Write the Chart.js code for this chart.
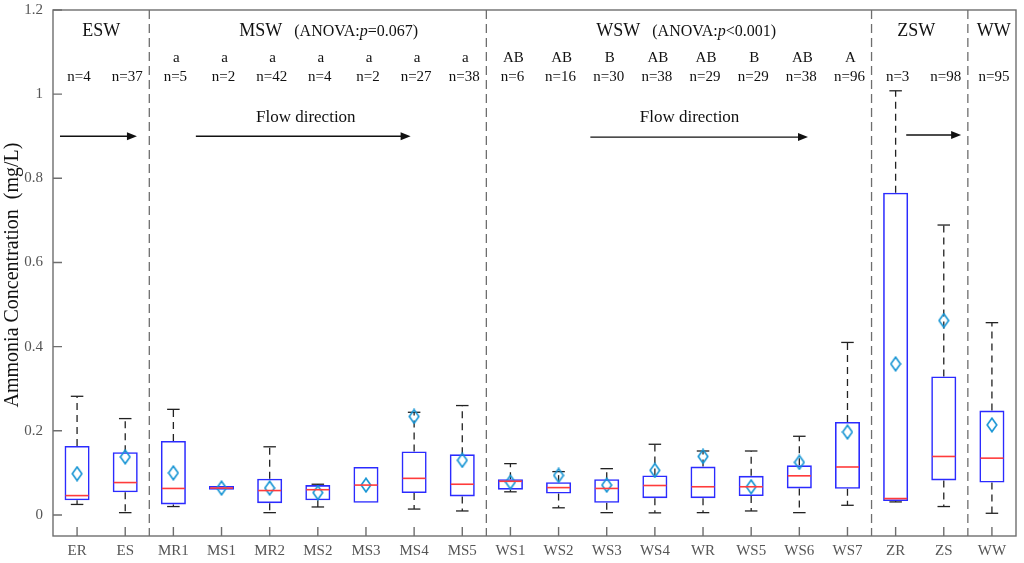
<!DOCTYPE html>
<html><head><meta charset="utf-8">
<script src="https://cdn.jsdelivr.net/npm/chart.js@4.4.1/dist/chart.umd.min.js"></script>
<style>html,body{margin:0;padding:0;background:#fff}#wrap{width:1024px;height:563px}</style>
</head><body><div id="wrap"><canvas id="c" width="1024" height="563"></canvas></div>
<script>
const categories = ['ER','ES','MR1','MS1','MR2','MS2','MS3','MS4','MS5','WS1','WS2','WS3','WS4','WR','WS5','WS6','WS7','ZR','ZS','WW'];
const whiskerLow = [0.025,0.0055,0.020,0.060,0.0055,0.019,0.029,0.014,0.0095,0.055,0.017,0.0055,0.005,0.0055,0.0095,0.0055,0.023,0.031,0.020,0.004];
const q1 =         [0.035,0.054,0.025,0.060,0.028,0.035,0.029,0.052,0.044,0.060,0.051,0.029,0.040,0.040,0.045,0.063,0.062,0.033,0.082,0.077];
const medians =    [0.046,0.077,0.063,0.064,0.058,0.060,0.071,0.087,0.073,0.080,0.065,0.063,0.070,0.067,0.067,0.093,0.114,0.039,0.139,0.135];
const q3 =         [0.164,0.149,0.176,0.069,0.086,0.071,0.114,0.151,0.144,0.085,0.078,0.085,0.094,0.115,0.093,0.118,0.221,0.766,0.329,0.248];
const whiskerHigh =[0.282,0.229,0.251,0.069,0.162,0.073,0.114,0.244,0.260,0.122,0.103,0.110,0.168,0.152,0.152,0.187,0.410,1.008,0.689,0.457];
const means =      [0.098,0.138,0.100,0.064,0.064,0.053,0.071,0.234,0.130,0.078,0.094,0.071,0.106,0.139,0.067,0.125,0.197,0.359,0.462,0.214];
const sampleSizes = ['n=4','n=37','n=5','n=2','n=42','n=4','n=2','n=27','n=38','n=6','n=16','n=30','n=38','n=29','n=29','n=38','n=96','n=3','n=98','n=95'];
const groupLetters = ['','','a','a','a','a','a','a','a','AB','AB','B','AB','AB','B','AB','A','','',''];
const yTicks = [0,0.2,0.4,0.6,0.8,1,1.2];
const separatorsAfter = [1,8,16,18];
const yLabel = 'Ammonia Concentration  (mg/L)';

const serif = '"Liberation Serif","DejaVu Serif",serif';

// diamond point image
const dia = document.createElement('canvas');
dia.width = 12; dia.height = 16;
(function(){const g=dia.getContext('2d');g.strokeStyle='#1795d4';g.lineWidth=1.6;g.beginPath();g.moveTo(6,1.2);g.lineTo(10.8,8);g.lineTo(6,14.8);g.lineTo(1.2,8);g.closePath();g.stroke();})();

const boxPlugin = {
  id:'boxExtras',
  beforeDatasetsDraw(chart){
    const {ctx, chartArea:a, scales:{x,y}} = chart;
    ctx.save();
    ctx.strokeStyle='#6e6e6e'; ctx.lineWidth=1.3; ctx.setLineDash([9,5]);
    separatorsAfter.forEach(i=>{
      const px = (x.getPixelForValue(i)+x.getPixelForValue(i+1))/2;
      ctx.beginPath(); ctx.moveTo(px,a.top); ctx.lineTo(px,a.bottom); ctx.stroke();
    });
    const half = x.getPixelForValue(1)-x.getPixelForValue(0);
    categories.forEach((c,i)=>{
      const px = x.getPixelForValue(i);
      ctx.strokeStyle='#222'; ctx.lineWidth=1.3;
      ctx.setLineDash([7,5]);
      if (whiskerHigh[i]>q3[i]){
        ctx.beginPath(); ctx.moveTo(px,y.getPixelForValue(q3[i])); ctx.lineTo(px,y.getPixelForValue(whiskerHigh[i])); ctx.stroke();
      }
      if (whiskerLow[i]<q1[i]){
        ctx.beginPath(); ctx.moveTo(px,y.getPixelForValue(q1[i])); ctx.lineTo(px,y.getPixelForValue(whiskerLow[i])); ctx.stroke();
      }
      ctx.setLineDash([]);
      const cw = half*0.13;
      [whiskerHigh[i],whiskerLow[i]].forEach((v,k)=>{
        if ((k===0 && v>q3[i]) || (k===1 && v<q1[i])){
          const py=y.getPixelForValue(v);
          ctx.beginPath(); ctx.moveTo(px-cw,py); ctx.lineTo(px+cw,py); ctx.stroke();
        }
      });
    });
    ctx.restore();
  },
  afterDatasetsDraw(chart){
    const {ctx, scales:{y}} = chart;
    const meta = chart.getDatasetMeta(0);
    ctx.save();
    ctx.strokeStyle='#ff3b3b'; ctx.lineWidth=1.6;
    meta.data.forEach((bar,i)=>{
      const w = bar.width/2; const py=y.getPixelForValue(medians[i]);
      ctx.beginPath(); ctx.moveTo(bar.x-w+1,py); ctx.lineTo(bar.x+w-1,py); ctx.stroke();
    });
    ctx.restore();
  },
  afterDraw(chart){
    const {ctx, chartArea:a, scales:{x,y}} = chart;
    ctx.save();
    ctx.strokeStyle='#6e6e6e'; ctx.lineWidth=1.4;
    ctx.strokeRect(a.left,a.top,a.right-a.left,a.bottom-a.top);
    ctx.beginPath();
    yTicks.forEach(v=>{const py=y.getPixelForValue(v); ctx.moveTo(a.left,py); ctx.lineTo(a.left+9,py);});
    categories.forEach((c,i)=>{const px=x.getPixelForValue(i); ctx.moveTo(px,a.bottom); ctx.lineTo(px,a.bottom-9);});
    ctx.stroke();
    ctx.save();
    ctx.translate(13, (a.top+a.bottom)/2 + 2);
    ctx.rotate(-Math.PI/2);
    ctx.fillStyle='#111'; ctx.font='20px '+serif; ctx.textAlign='center'; ctx.textBaseline='middle';
    ctx.fillText(yLabel,0,0);
    ctx.restore();
    ctx.fillStyle='#111'; ctx.textAlign='center'; ctx.textBaseline='middle';
    const X = v=>x.getPixelForValue(v), Y = v=>y.getPixelForValue(v);
    ctx.font='15px '+serif;
    categories.forEach((c,i)=>{
      ctx.fillText(sampleSizes[i], X(i)+2, Y(1.040));
      if (groupLetters[i]) ctx.fillText(groupLetters[i], X(i)+3, Y(1.086));
    });
    ctx.font='18px '+serif;
    ctx.fillText('ESW', X(0.5), Y(1.150));
    ctx.fillText('ZSW', X(17.43), Y(1.150));
    ctx.fillText('WW', X(19.04), Y(1.150));
    function titled(main, pre, italic, post, xc){
      ctx.textAlign='left';
      ctx.font='18px '+serif; const mw = ctx.measureText(main).width;
      ctx.font='16px '+serif; const w1=ctx.measureText(pre).width;
      ctx.font='italic 16px '+serif; const w2=ctx.measureText(italic).width;
      let sx = xc;
      ctx.font='18px '+serif; ctx.fillText(main, sx - mw/2, Y(1.150));
      sx = sx + mw/2 + 12;
      ctx.font='16px '+serif; ctx.fillText(pre, sx, Y(1.148)); sx+=w1;
      ctx.font='italic 16px '+serif; ctx.fillText(italic, sx, Y(1.148)); sx+=w2;
      ctx.font='16px '+serif; ctx.fillText(post, sx, Y(1.148));
      ctx.textAlign='center';
    }
    titled('MSW','(ANOVA:','p','=0.067)', X(3.815));
    titled('WSW','(ANOVA:','p','<0.001)', X(11.24));
    ctx.font='17px '+serif;
    ctx.fillText('Flow direction', X(4.75), Y(0.945));
    ctx.fillText('Flow direction', X(12.72), Y(0.945));
    function arrow(x0,x1,v){
      const py=Y(v), p0=X(x0), p1=X(x1);
      ctx.strokeStyle='#111'; ctx.lineWidth=1.3;
      ctx.beginPath(); ctx.moveTo(p0,py); ctx.lineTo(p1-8,py); ctx.stroke();
      ctx.fillStyle='#111'; ctx.beginPath(); ctx.moveTo(p1,py); ctx.lineTo(p1-10,py-4); ctx.lineTo(p1-10,py+4); ctx.closePath(); ctx.fill();
    }
    arrow(-0.355,1.243,0.900);
    arrow(2.467,6.927,0.900);
    arrow(10.66,15.18,0.898);
    arrow(17.22,18.36,0.903);
    ctx.restore();
  }
};

new Chart(document.getElementById('c'), {
  type:'bar',
  data:{
    labels:categories,
    datasets:[
      {type:'bar', data:categories.map((c,i)=>[q1[i],q3[i]]), backgroundColor:'rgba(0,0,0,0)', borderColor:'#2b2bff', borderWidth:1.6, borderSkipped:false, categoryPercentage:1, barPercentage:0.52, order:2},
      {type:'line', data:means, showLine:false, pointStyle:dia, pointRadius:7, pointHoverRadius:7, borderColor:'#1795d4', backgroundColor:'rgba(0,0,0,0)', order:1}
    ]
  },
  options:{
    responsive:false, animation:false, devicePixelRatio:1,
    layout:{padding:{top:10,right:7,left:0,bottom:0}},
    plugins:{legend:{display:false}, tooltip:{enabled:false}},
    scales:{
      x:{ offset:true, grid:{display:false, drawTicks:false}, border:{display:false},
          ticks:{color:'#555', font:{family:serif, size:15}, padding:6, maxRotation:0, autoSkip:false},
          afterFit(s){ s.height=27; s.paddingLeft=0; s.paddingRight=0; } },
      y:{ min:-0.05, max:1.2, grid:{display:false, drawTicks:false}, border:{display:false},
          afterBuildTicks(s){ s.ticks = yTicks.map(v=>({value:v})); },
          ticks:{color:'#555', font:{family:serif, size:15}, padding:10, callback:v=>String(+v.toFixed(2))},
          afterFit(s){ s.width=53; s.paddingTop=0; s.paddingBottom=0; } }
    }
  },
  plugins:[boxPlugin]
});
</script></body></html>
